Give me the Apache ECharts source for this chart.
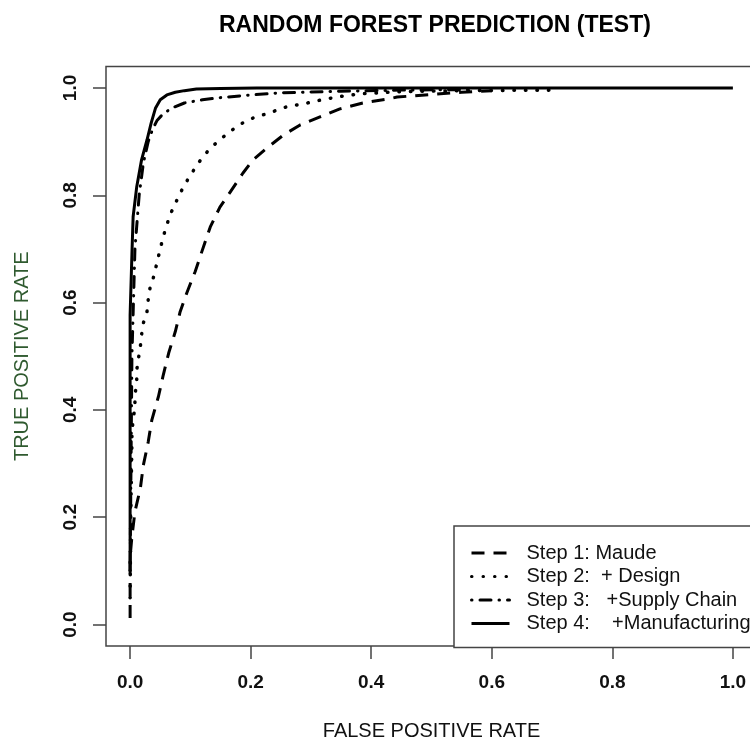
<!DOCTYPE html>
<html>
<head>
<meta charset="utf-8">
<script src="https://cdn.jsdelivr.net/npm/echarts@6/dist/echarts.min.js"></script>
<style>html,body{margin:0;padding:0;background:#fff}#chart{width:750px;height:742px}</style>
</head>
<body>
<div id="chart"></div>
<script>
var titleText = 'RANDOM FOREST PREDICTION (TEST)';
var xTitle = 'FALSE POSITIVE RATE';
var yTitle = 'TRUE POSITIVE RATE';
var tickValues = [0, 0.2, 0.4, 0.6, 0.8, 1.0];
var seriesNames = ['Step 1: Maude', 'Step 2:  + Design', 'Step 3:   +Supply Chain', 'Step 4:    +Manufacturing'];

var step1Fpr = [0, 0, 0, 0.003, 0.008, 0.017, 0.022, 0.030, 0.036, 0.047, 0.055, 0.064, 0.075, 0.083, 0.094, 0.108, 0.119, 0.133, 0.149, 0.166, 0.187, 0.204, 0.227, 0.254, 0.282, 0.315, 0.348, 0.386, 0.426, 0.443, 0.5, 0.55, 0.6];
var step1Tpr = [0.012, 0.083, 0.126, 0.164, 0.21, 0.254, 0.297, 0.34, 0.381, 0.425, 0.465, 0.506, 0.546, 0.583, 0.618, 0.658, 0.695, 0.741, 0.778, 0.806, 0.841, 0.866, 0.888, 0.912, 0.931, 0.946, 0.961, 0.972, 0.979, 0.983, 0.988, 0.992, 0.995];

var step2Fpr = [0, 0.001, 0.003, 0.003, 0.005, 0.008, 0.008, 0.011, 0.011, 0.014, 0.017, 0.019, 0.022, 0.028, 0.030, 0.033, 0.039, 0.047, 0.055, 0.066, 0.083, 0.097, 0.113, 0.133, 0.155, 0.18, 0.204, 0.232, 0.26, 0.29, 0.318, 0.348, 0.381, 0.415, 0.442, 0.55, 0.7];
var step2Tpr = [0.05, 0.2, 0.338, 0.359, 0.381, 0.406, 0.428, 0.45, 0.474, 0.497, 0.518, 0.54, 0.562, 0.583, 0.605, 0.627, 0.648, 0.686, 0.723, 0.763, 0.804, 0.832, 0.86, 0.888, 0.909, 0.931, 0.944, 0.954, 0.965, 0.971, 0.978, 0.984, 0.989, 0.991, 0.993, 0.995, 0.996];

var step3Fpr = [0, 0.003, 0.008, 0.015, 0.022, 0.030, 0.038, 0.045, 0.055, 0.07, 0.09, 0.12, 0.15, 0.2, 0.25, 0.35, 0.45, 0.56];
var step3Tpr = [0.1, 0.5, 0.7, 0.8, 0.86, 0.9, 0.925, 0.94, 0.952, 0.963, 0.972, 0.978, 0.982, 0.987, 0.991, 0.994, 0.996, 0.997];

var step4Fpr = [0, 0, 0.003, 0.003, 0.005, 0.011, 0.019, 0.028, 0.035, 0.042, 0.05, 0.061, 0.075, 0.09, 0.11, 0.15, 0.21, 0.5, 1.0];
var step4Tpr = [0.1, 0.577, 0.577, 0.69, 0.76, 0.816, 0.866, 0.903, 0.935, 0.962, 0.978, 0.987, 0.992, 0.995, 0.998, 0.999, 1.0, 1.0, 1.0];

function pairs(xs, ys) { return xs.map(function (x, i) { return [x, ys[i]]; }); }

var lineTypes = [
  { type: [13, 9], cap: 'butt', width: 3 },
  { type: [0.5, 11], cap: 'round', width: 3.5 },
  { type: [0.5, 8, 11, 8], cap: 'round', width: 3 },
  { type: 'solid', cap: 'butt', width: 3 }
];
var allData = [pairs(step1Fpr, step1Tpr), pairs(step2Fpr, step2Tpr), pairs(step3Fpr, step3Tpr), pairs(step4Fpr, step4Tpr)];

var axisCommon = {
  type: 'value', min: -0.04, max: 1.04,
  splitLine: { show: false },
  axisLine: { show: false, onZero: false },
  axisTick: { show: true, customValues: tickValues, length: 13, lineStyle: { color: '#444', width: 1.5 } },
  axisLabel: {
    customValues: tickValues,
    formatter: function (v) { return v.toFixed(1); },
    fontFamily: 'Liberation Sans, Arial, sans-serif', fontSize: 19, fontWeight: 'bold', color: '#111'
  },
  nameLocation: 'middle',
  nameTextStyle: { fontFamily: 'Liberation Sans, Arial, sans-serif', fontSize: 20 }
};

var chart = echarts.init(document.getElementById('chart'), null, { renderer: 'canvas' });
chart.setOption({
  animation: false,
  backgroundColor: '#fff',
  title: {
    text: titleText, left: 214, top: 9,
    textStyle: { fontFamily: 'Liberation Sans, Arial, sans-serif', fontSize: 23, fontWeight: 'bold', color: '#000' }
  },
  grid: { left: 106, top: 66.5, width: 651, height: 579.5, show: true, borderColor: '#444', borderWidth: 1.5, backgroundColor: '#fff', containLabel: false, outerBoundsMode: 'none' },
  xAxis: Object.assign({}, axisCommon, {
    name: xTitle, nameGap: 75,
    axisLabel: Object.assign({}, axisCommon.axisLabel, { margin: 27 }),
    nameTextStyle: Object.assign({}, axisCommon.nameTextStyle, { color: '#111' })
  }),
  yAxis: Object.assign({}, axisCommon, {
    name: yTitle, nameGap: 74,
    axisLabel: Object.assign({}, axisCommon.axisLabel, { margin: 26, rotate: 90 }),
    nameTextStyle: Object.assign({}, axisCommon.nameTextStyle, { color: '#2f5a2f' })
  }),
  legend: {
    orient: 'vertical', left: 454, top: 526,
    padding: [17, 30, 14, 16],
    itemGap: 3.5, itemWidth: 38, itemHeight: 14,
    backgroundColor: '#fff', borderColor: '#444', borderWidth: 1.5, borderRadius: 0,
    itemStyle: { opacity: 0 },
    lineStyle: { width: 3 },
    textStyle: { fontFamily: 'Liberation Sans, Arial, sans-serif', fontSize: 20, color: '#111', lineHeight: 20, padding: [0, 0, 0, 12] },
    data: seriesNames
  },
  series: allData.map(function (d, i) {
    return {
      name: seriesNames[i], type: 'line', data: d, showSymbol: false, symbol: 'none',
      lineStyle: { color: '#000', width: lineTypes[i].width, type: lineTypes[i].type, cap: lineTypes[i].cap },
      itemStyle: { color: '#000' }
    };
  })
});
</script>
</body>
</html>
